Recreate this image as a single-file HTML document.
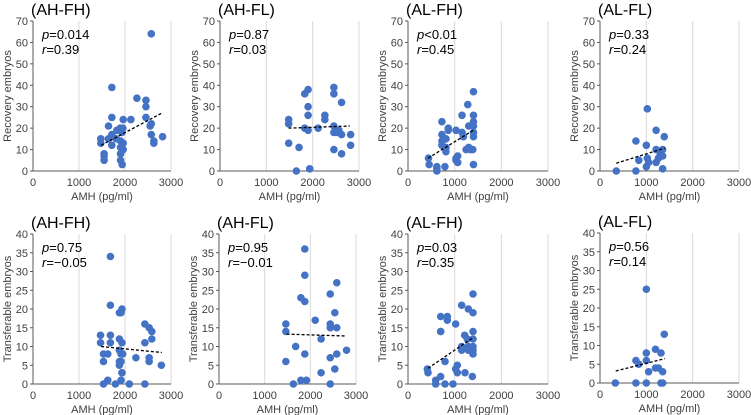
<!DOCTYPE html>
<html><head><meta charset="utf-8"><style>
html,body{margin:0;padding:0;background:#fff;}
svg{display:block;font-family:"Liberation Sans",sans-serif;}
</style></head><body>
<svg id="chart" width="751" height="415" viewBox="0 0 751 415"></svg>
<script>
// ---- data ----
const titles = ["(AH-FH)","(AH-FL)","(AL-FH)","(AL-FL)","(AH-FH)","(AH-FL)","(AL-FH)","(AL-FL)"];
const pLabels = ["=0.014","=0.87","<0.01","=0.33","=0.75","=0.95","=0.03","=0.56"];
const rLabels = ["=0.39","=0.03","=0.45","=0.24","=\u22120.05","=\u22120.01","=0.35","=0.14"];
const xTicks = [0,1000,2000,3000];
const yTicksRecovery = [0,10,20,30,40,50,60,70];
const yTicksTransfer = [0,5,10,15,20,25,30,35,40];
const pts1 = [[2571,64],[1714,39],[2259,34],[2455,33],[2455,30],[1714,25],[1961,24],[2128,24],[2455,25],[2571,22],[2547,21],[1641,21],[1474,15],[1474,13],[1641,15],[1714,17],[1823,19],[1896,20],[1954,20],[1932,18],[1808,15],[1903,14],[1961,13],[1714,12],[1903,11],[1961,10],[1903,8],[1546,8],[1546,7],[1546,5],[1903,5],[1939,3],[2571,17],[2627,14],[2627,13],[2817,16]];
const pts2 = [[1482,24],[1482,22],[1482,13],[1706,11],[1829,36],[1901,38],[1901,30],[1901,26],[1829,20],[1901,19],[1937,1],[1648,0],[2118,20],[2263,26],[2263,24],[2458,39],[2458,36],[2458,21],[2458,18],[2458,10],[2624,32],[2566,19],[2624,17],[2624,8],[2819,17],[2819,12],[2530,18]];
const pts3 = [[439,6],[453,3],[619,2],[619,0],[619,1],[727,23],[727,17],[727,14],[727,12],[813,15],[813,11],[813,9],[791,2],[863,20],[863,19],[1029,19],[1029,6],[1029,5],[1065,7],[1065,4],[1158,26],[1158,18],[1187,16],[1281,31],[1302,21],[1245,10],[1302,11],[1338,10],[1388,10],[1403,3],[1403,37],[1403,26],[1403,23],[1403,21],[1403,18],[1403,16]];
const pts4 = [[352,0],[775,14],[775,0],[838,5],[1000,12],[1021,29],[1000,2],[1021,6],[1049,4],[1211,19],[1211,10],[1211,4],[1261,6],[1303,8],[1352,10],[1387,16],[1352,7],[1352,1]];
const pts5 = [[1468,13],[1468,11],[1532,6],[1532,8],[1532,0],[1626,8],[1626,1],[1683,34],[1683,21],[1683,13],[1683,11],[1791,0],[1878,19],[1935,20],[1914,19],[1878,12],[1935,11],[1878,9],[1914,8],[1950,8],[1878,6],[1878,5],[1914,6],[1935,3],[1935,3],[1914,1],[2094,0],[2237,7],[2432,16],[2432,11],[2432,0],[2525,15],[2583,14],[2583,12],[2525,7],[2525,6],[2791,5]];
const pts6 = [[1464,16],[1464,14],[1464,6],[1629,0],[1679,10],[1793,23],[1793,1],[1879,36],[1879,29],[1879,22],[1879,8],[1914,1],[2107,17],[2236,12],[2236,3],[2436,24],[2436,16],[2436,15],[2436,7],[2436,0],[2536,19],[2536,4],[2579,27],[2579,15],[2579,8],[2793,9]];
const pts7 = [[414,4],[429,3],[593,1],[593,0],[700,2],[700,14],[700,14],[700,18],[793,0],[793,6],[843,18],[843,17],[964,0],[1021,16],[1021,4],[1057,5],[1057,3],[1150,21],[1150,10],[1150,9],[1214,13],[1271,12],[1293,20],[1293,10],[1293,9],[1329,9],[1221,3],[1379,2],[1393,24],[1393,19],[1393,14],[1393,12],[1393,10],[1393,9],[1393,8]];
const pts8 = [[331,0],[775,6],[775,0],[838,5],[1000,8],[1000,25],[1000,6],[1000,0],[1049,3],[1197,9],[1197,4],[1261,4],[1317,8],[1317,0],[1352,0],[1352,3],[1387,13]];
const trendX = [[1480,2800],[1480,2800],[430,1400],[350,1400],[1480,2800],[1480,2780],[430,1400],[340,1400]];
const trendY = [[12,27],[20,21],[6,19],[3.6,10.7],[10,8.4],[13.3,12.8],[4.2,12.4],[3.2,6.5]];
const allPts = [pts1,pts2,pts3,pts4,pts5,pts6,pts7,pts8];

// ---- layout ----
const NS = "http://www.w3.org/2000/svg";
const svg = document.getElementById("chart");
const frames = [
 {x0:33,x1:171,yT:21,yB:171},{x0:220,x1:359,yT:21,yB:171},{x0:408,x1:548,yT:21,yB:171},{x0:600,x1:739,yT:21,yB:171},
 {x0:33,x1:171,yT:234,yB:384},{x0:219,x1:356,yT:234,yB:384},{x0:408,x1:548,yT:234,yB:384},{x0:600,x1:739,yT:233,yB:383}];
function mk(tag, attrs, parent){const e=document.createElementNS(NS,tag);for(const k in attrs)e.setAttribute(k,attrs[k]);(parent||svg).appendChild(e);return e;}

frames.forEach((f,i)=>{
  const g = mk("g",{});
  
  
  const rec = i<4;
  const yTicks = rec ? yTicksRecovery : yTicksTransfer;
  const yMax = rec ? 70 : 40;
  const sx = v => f.x0 + v/3000*(f.x1-f.x0);
  const sy = v => f.yB - v/yMax*(f.yB-f.yT);
  xTicks.forEach(t=>{ if(t>0){ const l=mk("line",{x1:sx(t),x2:sx(t),y1:f.yT,y2:f.yB,stroke:"#d9d9d9","stroke-width":1},g);
    
     }});
  const ax=mk("line",{x1:f.x0,x2:f.x1,y1:f.yB,y2:f.yB,stroke:"#595959","stroke-width":1},g);
  
  
  const ay=mk("line",{x1:f.x0,x2:f.x0,y1:f.yT,y2:f.yB,stroke:"#595959","stroke-width":1},g);
  
  
  xTicks.forEach(t=>{ const tx=mk("text",{x:sx(t),y:f.yB+15,"text-anchor":"middle","font-size":"11",fill:"#404040"},g); tx.textContent=t;
    
     });
  yTicks.forEach(t=>{ const tk=mk("line",{x1:f.x0-3,x2:f.x0,y1:sy(t),y2:sy(t),stroke:"#595959"},g);
    
    
    const ty=mk("text",{x:f.x0-5,y:sy(t)+4,"text-anchor":"end","font-size":"11",fill:"#404040"},g); ty.textContent=t;
    
     });
  const tt=mk("text",{x:f.x0-2,y:f.yT-6,"font-size":"16",fill:"#000"},g); tt.textContent=titles[i];
  
  
  const xt=mk("text",{x:(f.x0+f.x1)/2,y:f.yB+29,"text-anchor":"middle","font-size":"11",fill:"#404040"},g); xt.textContent="AMH (pg/ml)";
  
  
  const cy=(f.yT+f.yB)/2, cx=f.x0-22;
  const yt=mk("text",{x:cx,y:cy,"text-anchor":"middle","font-size":"11",fill:"#404040",transform:`rotate(-90 ${cx} ${cy})`},g);
  yt.textContent = rec ? "Recovery embryos" : "Transferable embryos";
  
  
  const pt=mk("text",{x:f.x0+9,y:f.yT+18,"font-size":"13",fill:"#000"},g);
  pt.innerHTML='<tspan font-style="italic">p</tspan>'+pLabels[i];
  
  
  const rt=mk("text",{x:f.x0+9,y:f.yT+33,"font-size":"13",fill:"#000"},g);
  rt.innerHTML='<tspan font-style="italic">r</tspan>'+rLabels[i];
  
  
  allPts[i].forEach(p=>{ const c=mk("circle",{cx:sx(p[0]),cy:sy(p[1]),r:3.8,fill:"#4472C4"},g);
    
     });
  const tl=mk("line",{x1:sx(trendX[i][0]),y1:sy(trendY[i][0]),x2:sx(trendX[i][1]),y2:sy(trendY[i][1]),stroke:"#000","stroke-width":1.3,"stroke-dasharray":"3,2"},g);
  
  
});
</script>
</body></html>
